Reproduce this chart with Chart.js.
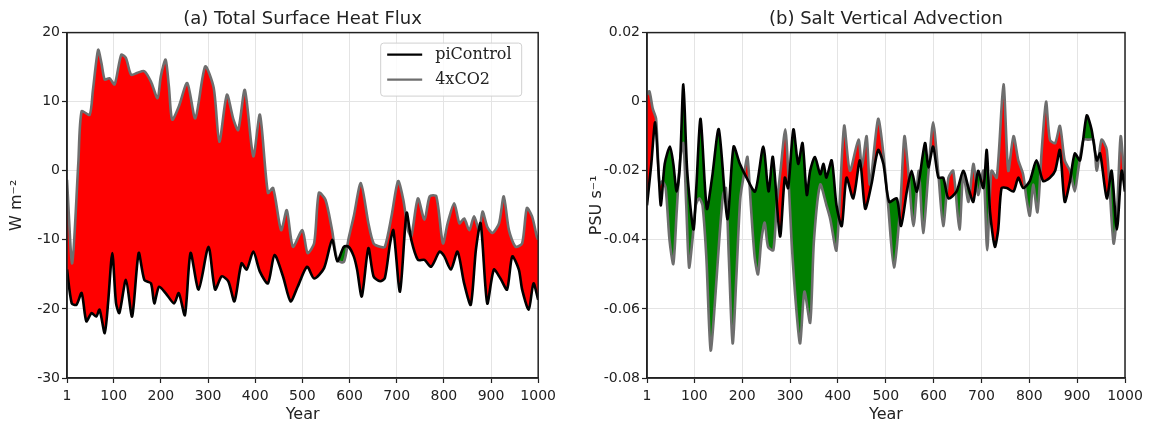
<!DOCTYPE html>
<html>
<head>
<meta charset="utf-8">
<script src="https://cdn.jsdelivr.net/npm/chart.js@4.4.1/dist/chart.umd.min.js"></script>
<style>
  body { margin: 0; background: #fff; }
  #wrap { position: relative; width: 1157px; height: 428px; }
  canvas { position: absolute; top: 0; }
  #chartA { left: 0; }
  #chartB { left: 580px; }
</style>
</head>
<body>
<div id="wrap">
  <canvas id="chartA" width="561" height="428"></canvas>
  <canvas id="chartB" width="577" height="428"></canvas>
</div>
<script>
// x ticks shared by both panels
const xTicks = [1, 100, 200, 300, 400, 500, 600, 700, 800, 900, 1000];
const yTicksA = [-30, -20, -10, 0, 10, 20];
const yTicksB = [-0.08, -0.06, -0.04, -0.02, 0, 0.02];

// (a) Total Surface Heat Flux, W m-2
const yearsCtlA = [1,11,21,32,42,53,63,70,81,88,97,105,112,126,139,153,165,179,186,196,210,228,238,251,263,280,301,315,329,343,356,371,382,396,410,427,441,459,475,490,510,525,546,563,574,588,598,609,616,626,640,651,665,675,686,693,707,721,731,745,759,773,791,801,815,829,843,857,868,878,892,906,920,934,945,959,966,980,990,1000];
const ctlA = [-14.3,-19.2,-19.4,-17.7,-21.8,-20.6,-21.1,-20.1,-23.5,-19.2,-11.9,-19.2,-20.6,-15.8,-21.1,-11.9,-15.8,-16.3,-19.2,-16.8,-17.7,-19.2,-17.7,-20.9,-11.9,-17.2,-11.0,-17.2,-15.3,-16.0,-18.9,-13.4,-14.3,-11.7,-14.6,-16.3,-12.2,-15.3,-18.9,-16.8,-13.9,-15.6,-14.1,-10.0,-13.1,-11.0,-11.0,-12.4,-14.3,-18.2,-11.2,-15.3,-16.0,-15.5,-10.5,-8.6,-17.5,-6.1,-10.0,-12.9,-12.9,-13.9,-11.7,-12.4,-14.3,-11.7,-16.3,-19.4,-11.4,-7.6,-19.2,-14.3,-15.6,-17.2,-12.4,-14.3,-17.2,-20.1,-16.3,-18.7];

const yearsCo2A = [1,12,25,32,49,56,67,74,81,91,102,116,126,137,151,165,179,193,200,210,217,224,238,256,273,294,312,324,340,354,364,378,396,410,427,438,455,467,480,500,511,525,535,549,563,574,588,598,609,624,640,651,665,675,689,703,714,724,731,745,759,770,784,798,808,822,833,843,854,864,875,882,892,903,917,927,938,952,966,976,987,997,1000];
const co2A = [-1.3,-13.4,1.1,8.6,8.1,11.7,17.5,15.6,13.2,13.4,12.5,16.8,16.3,13.9,14.2,14.4,12.9,10.5,13.7,16.1,12.2,7.4,9.3,12.7,7.6,15.1,12.0,4.2,11.0,7.4,5.9,11.7,2.1,8.1,-3.2,-2.5,-8.6,-5.7,-11.0,-8.6,-11.9,-10.5,-3.2,-4.2,-8.6,-12.9,-13.2,-9.8,-6.6,-1.8,-7.6,-10.5,-11.0,-11.0,-6.6,-1.5,-4.2,-8.6,-9.5,-4.0,-7.1,-3.7,-3.7,-10.5,-7.6,-4.7,-7.6,-6.9,-8.6,-6.6,-8.6,-5.9,-8.1,-9.0,-7.6,-3.7,-8.6,-11.0,-10.5,-5.4,-6.6,-9.5,-10.0];

// (b) Salt Vertical Advection, PSU s-1
const yearsCtlB = [1,10,18,25,30,38,49,56,63,70,77,85,98,104,113,126,137,151,169,182,195,209,227,244,255,264,279,289,296,307,317,326,335,342,352,363,370,376,387,397,408,418,432,446,457,470,484,495,507,523,532,544,554,565,582,589,599,610,620,631,648,662,673,683,693,704,711,718,728,735,742,753,767,777,787,801,815,829,843,854,864,874,885,895,906,920,930,941,948,962,972,983,993,1000];
const ctlB = [-0.030,-0.018,-0.006,-0.020,-0.030,-0.018,-0.013,-0.018,-0.026,-0.018,0.005,-0.020,-0.037,-0.025,-0.005,-0.031,-0.022,-0.008,-0.034,-0.013,-0.018,-0.022,-0.026,-0.013,-0.026,-0.016,-0.039,-0.022,-0.025,-0.008,-0.018,-0.012,-0.027,-0.020,-0.016,-0.021,-0.018,-0.022,-0.017,-0.030,-0.036,-0.022,-0.028,-0.017,-0.031,-0.024,-0.014,-0.018,-0.029,-0.028,-0.036,-0.026,-0.020,-0.026,-0.012,-0.019,-0.013,-0.022,-0.022,-0.028,-0.026,-0.020,-0.025,-0.029,-0.020,-0.025,-0.014,-0.032,-0.042,-0.037,-0.025,-0.025,-0.026,-0.022,-0.025,-0.023,-0.017,-0.023,-0.022,-0.020,-0.014,-0.029,-0.023,-0.015,-0.017,-0.004,-0.008,-0.017,-0.015,-0.028,-0.020,-0.037,-0.020,-0.026];

const yearsCo2B = [1,6,13,20,27,33,40,48,56,63,70,77,83,89,96,103,110,117,125,134,143,152,160,166,172,180,188,196,205,211,218,226,233,240,247,254,265,272,280,290,296,303,313,321,330,342,350,363,376,384,397,413,425,443,450,460,467,484,495,505,517,530,539,547,558,569,578,589,599,610,620,631,641,654,662,673,683,693,704,712,721,732,746,756,767,777,787,794,801,808,817,826,835,843,854,864,874,885,895,902,913,923,934,941,951,962,976,983,991,1000];
const co2B = [0.002,0.003,-0.002,-0.005,-0.024,-0.023,-0.025,-0.040,-0.047,-0.032,-0.017,-0.012,-0.030,-0.048,-0.040,-0.030,-0.028,-0.030,-0.045,-0.072,-0.058,-0.040,-0.027,-0.025,-0.045,-0.070,-0.050,-0.028,-0.020,-0.016,-0.030,-0.045,-0.050,-0.040,-0.035,-0.042,-0.043,-0.030,-0.020,-0.008,-0.020,-0.040,-0.060,-0.070,-0.055,-0.064,-0.040,-0.024,-0.030,-0.034,-0.043,-0.007,-0.020,-0.011,-0.019,-0.010,-0.024,-0.005,-0.015,-0.030,-0.048,-0.031,-0.010,-0.020,-0.036,-0.020,-0.038,-0.021,-0.006,-0.021,-0.036,-0.022,-0.020,-0.037,-0.021,-0.029,-0.018,-0.027,-0.020,-0.043,-0.020,-0.022,0.005,-0.020,-0.010,-0.017,-0.021,-0.028,-0.033,-0.024,-0.032,-0.014,0.000,-0.011,-0.012,-0.007,-0.017,-0.020,-0.026,-0.020,-0.011,-0.011,-0.011,-0.020,-0.011,-0.014,-0.041,-0.033,-0.010,-0.026];

Chart.defaults.font.family = "'DejaVu Sans', sans-serif";
Chart.defaults.color = '#222';

function toPoints(xs, ys) {
    return xs.map((x, i) => ({ x: x, y: ys[i] }));
}

// black frame round the plot area
const framePlugin = {
    id: 'frame',
    afterDraw(chart) {
        const a = chart.chartArea;
        const ctx = chart.ctx;
        ctx.save();
        ctx.strokeStyle = '#222';
        ctx.lineWidth = 1.5;
        ctx.strokeRect(a.left, a.top, a.right - a.left, a.bottom - a.top);
        ctx.restore();
    }
};

// legend box inside panel (a)
const legendBox = {
    id: 'legendBox',
    afterDraw(chart, args, opts) {
        if (!opts.show) return;
        const a = chart.chartArea;
        const ctx = chart.ctx;
        const x1 = a.right - 158, x2 = a.right - 17, y1 = a.top + 10, y2 = a.top + 63;
        ctx.save();
        ctx.fillStyle = 'rgba(255,255,255,0.85)';
        ctx.strokeStyle = '#d0d0d0';
        ctx.lineWidth = 1;
        ctx.beginPath();
        ctx.roundRect(x1 + 0.5, y1 + 0.5, x2 - x1, y2 - y1, 3);
        ctx.fill();
        ctx.stroke();
        const sets = chart.data.datasets;
        [0, 1].forEach((k, i) => {
            const y = y1 + 12 + i * 25;
            ctx.strokeStyle = sets[k].borderColor;
            ctx.lineWidth = 2.2;
            ctx.beginPath();
            ctx.moveTo(x1 + 7, y);
            ctx.lineTo(x1 + 42, y);
            ctx.stroke();
            ctx.fillStyle = '#222';
            ctx.font = "16px 'DejaVu Serif'";
            ctx.textBaseline = 'middle';
            ctx.fillText(sets[k].label, x1 + 55, y);
        });
        ctx.restore();
    }
};

function makePanel(id, title, yTitle, yMin, yMax, yTicks, yFmt, ctl, co2, withLegend, padRight) {
    new Chart(document.getElementById(id), {
        type: 'line',
        data: {
            datasets: [
                {
                    label: 'piControl',
                    data: ctl,
                    borderColor: '#000',
                    borderWidth: 2.6,
                    pointRadius: 0,
                    tension: 0.25,
                    fill: false
                },
                {
                    label: '4xCO2',
                    data: co2,
                    borderColor: '#6e6e6e',
                    borderWidth: 2.6,
                    pointRadius: 0,
                    tension: 0.25,
                    fill: { target: 0, above: '#ff0000', below: '#008000' }
                }
            ]
        },
        options: {
            responsive: false,
            animation: false,
            devicePixelRatio: 1,
            layout: { padding: { left: 0, right: padRight, top: 0, bottom: 0 } },
            plugins: {
                legend: { display: false },
                tooltip: { enabled: false },
                title: {
                    display: true,
                    text: title,
                    fullSize: false,
                    font: { size: 18, weight: 'normal' },
                    color: '#222',
                    padding: { top: 9, bottom: 2 }
                },
                legendBox: { show: withLegend }
            },
            scales: {
                x: {
                    type: 'linear',
                    min: 1,
                    max: 1000,
                    afterBuildTicks: s => { s.ticks = xTicks.map(v => ({ value: v })); },
                    afterFit: s => { s.height = 50; },
                    ticks: { font: { size: 14 }, color: '#222', padding: 5, maxRotation: 0, autoSkip: false, callback: v => String(v) },
                    grid: { color: '#e4e4e4', lineWidth: 1, tickLength: 5, tickColor: '#222', tickWidth: 1.2 },
                    border: { color: '#222', width: 1.5 },
                    title: { display: true, text: 'Year', font: { size: 16 }, color: '#222', padding: { top: 0, bottom: 4 } }
                },
                y: {
                    min: yMin,
                    max: yMax,
                    afterBuildTicks: s => { s.ticks = yTicks.map(v => ({ value: v })); },
                    afterFit: s => { s.width = 67; },
                    ticks: { font: { size: 14 }, color: '#222', padding: 2, callback: v => yFmt(v) },
                    grid: { color: '#e4e4e4', lineWidth: 1, tickLength: 5, tickColor: '#222', tickWidth: 1.2 },
                    border: { color: '#222', width: 1.5 },
                    title: { display: true, text: yTitle, font: { size: 16 }, color: '#222', padding: { top: 7, bottom: 0 } }
                }
            }
        },
        plugins: [framePlugin, legendBox]
    });
}

makePanel('chartA', '(a) Total Surface Heat Flux', 'W m\u207B\u00B2', -30, 20, yTicksA,
    v => String(v), toPoints(yearsCtlA, ctlA), toPoints(yearsCo2A, co2A), true, 0);

makePanel('chartB', '(b) Salt Vertical Advection', 'PSU s\u207B\u00B9', -0.08, 0.02, yTicksB,
    v => (Math.abs(v) < 1e-9 ? '0' : v.toFixed(2)), toPoints(yearsCtlB, ctlB), toPoints(yearsCo2B, co2B), false, 32);
</script>
</body>
</html>
